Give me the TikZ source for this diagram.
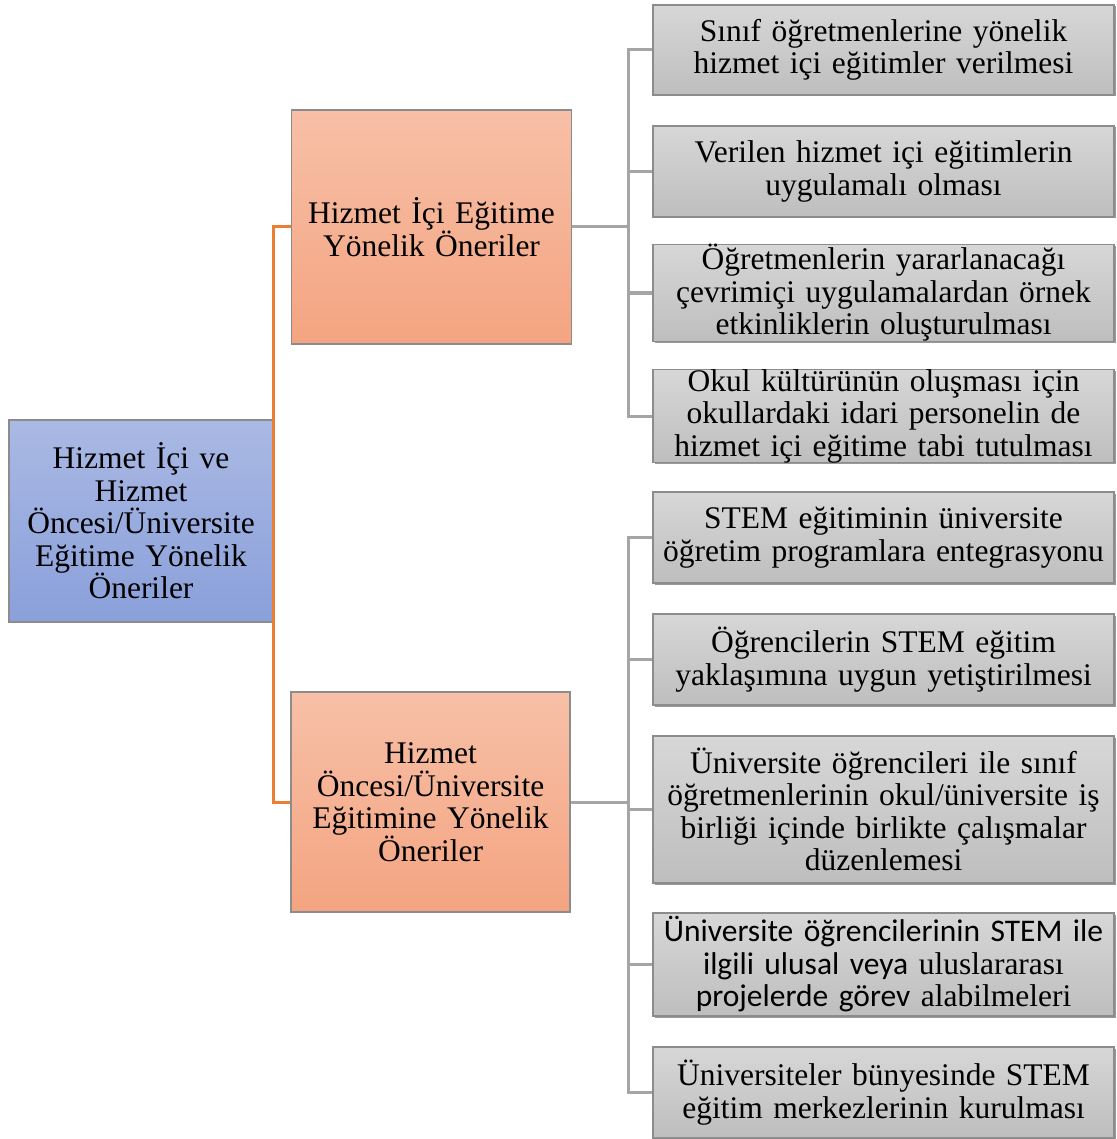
\documentclass[tikz,border=0pt]{standalone}
\usepackage{fontspec}
\setmainfont{Liberation Serif}
\newfontfamily\calib{Carlito}
\usetikzlibrary{shadows}
\definecolor{rootTop}{HTML}{AAB9E4}
\definecolor{rootBot}{HTML}{8AA0DA}
\definecolor{orTop}{HTML}{F7C0A7}
\definecolor{orBot}{HTML}{F4A481}
\definecolor{grTop}{HTML}{D7D7D7}
\definecolor{grBot}{HTML}{BEBEBE}
\definecolor{edgeGray}{HTML}{8C8C8C}
\definecolor{linkGray}{HTML}{A5A5A5}
\definecolor{linkOrange}{HTML}{ED7D31}
\tikzset{
  box/.style={draw=edgeGray, line width=1.3pt, align=center, inner sep=0pt,
    font=\fontsize{31.5}{32.5}\selectfont},
  rootbox/.style={box, top color=rootTop, bottom color=rootBot,
    minimum width=264pt, minimum height=202pt, text width=260pt},
  midbox/.style={box, top color=orTop, bottom color=orBot,
    minimum width=280pt, text width=276pt},
  leafbox/.style={box, top color=grTop, bottom color=grBot,
    minimum width=461pt, text width=461pt,
    general shadow={fill=black!40, shadow xshift=1.5pt, shadow yshift=-1.5pt}},
  link/.style={draw=linkGray, line width=3pt},
  olink/.style={draw=linkOrange, line width=3pt},
}
\begin{document}
\begin{tikzpicture}[x=1pt, y=-1pt]
\useasboundingbox (0,0) rectangle (1116,1139);

% root
\node[rootbox] (root) at (141,521)
  {Hizmet İçi ve\\Hizmet\\Öncesi/Üniversite\\Eğitime Yönelik\\Öneriler};

% second level
\node[midbox, minimum height=234pt] (o1) at (431.5,227)
  {Hizmet İçi Eğitime\\Yönelik Öneriler};
\node[midbox, minimum height=220pt, minimum width=279pt] (o2) at (430.5,802)
  {Hizmet\\Öncesi/Üniversite\\Eğitimine Yönelik\\Öneriler};

% leaves: in-service
\node[leafbox, minimum height=90pt] (g1) at (883.5,50)
  {Sınıf öğretmenlerine yönelik\\hizmet içi eğitimler verilmesi};
\node[leafbox, minimum height=91pt] (g2) at (883.5,171.5)
  {Verilen hizmet içi eğitimlerin\\uygulamalı olması};
\node[leafbox, minimum height=90pt] (g3) at (883.5,293)
  {Öğretmenlerin yararlanacağı\\çevrimiçi uygulamalardan örnek\\etkinliklerin oluşturulması};
\node[leafbox, minimum height=90pt] (g4) at (883.5,416)
  {Okul kültürünün oluşması için\\okullardaki idari personelin de\\hizmet içi eğitime tabi tutulması};

% leaves: pre-service / university
\node[leafbox, minimum height=91pt] (g5) at (883.5,537.5)
  {STEM eğitiminin üniversite\\öğretim programlara entegrasyonu};
\node[leafbox, minimum height=91pt] (g6) at (883.5,659.5)
  {Öğrencilerin STEM eğitim\\yaklaşımına uygun yetiştirilmesi};
\node[leafbox, minimum height=147pt] (g7) at (883.5,809.5)
  {Üniversite öğrencileri ile sınıf\\öğretmenlerinin okul/üniversite iş\\birliği içinde birlikte çalışmalar\\düzenlemesi};
\node[leafbox, minimum height=103pt] (g8) at (883.5,964.5)
  {{\calib Üniversite öğrencilerinin STEM ile}\\{\calib ilgili ulusal veya} uluslararası\\{\calib projelerde görev} alabilmeleri};
\node[leafbox, minimum height=91pt] (g9) at (883.5,1092.5)
  {Üniversiteler bünyesinde STEM\\eğitim merkezlerinin kurulması};

% orange connectors from the root
\coordinate (rj) at (root.east);
\draw[olink] (o1.west) -| (rj);
\draw[olink] (o2.west) -| (rj);

% gray connectors to the leaves
\coordinate (b1) at (628,227);
\coordinate (b2) at (628,802);
\draw[link] (o1.east) -- (b1);
\draw[link] (o2.east) -- (b2);
\foreach \g in {g1,g2,g3,g4} \draw[link] (\g.west) -| (b1);
\foreach \g in {g5,g6,g7,g8,g9} \draw[link] (\g.west) -| (b2);
\end{tikzpicture}
\end{document}
